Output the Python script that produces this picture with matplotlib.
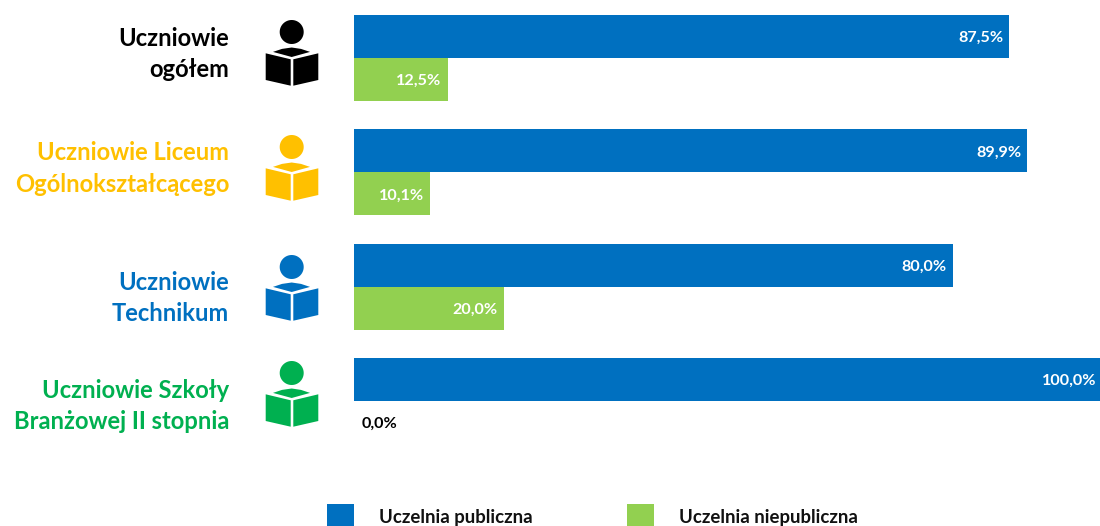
import math
import matplotlib
matplotlib.use("Agg")
import matplotlib.pyplot as plt
from matplotlib.patches import Polygon, Rectangle

W, H = 1100, 526
plt.rcParams['font.family'] = ['Lato', 'DejaVu Sans']

categories = ["Uczniowie\nogółem", "Uczniowie Liceum\nOgólnokształcącego",
              "Uczniowie\nTechnikum", "Uczniowie Szkoły\nBranżowej II stopnia"]
cat_colors = ["#000000", "#FFC000", "#0070C0", "#00B050"]
publiczna = [87.5, 89.9, 80.0, 100.0]
niepubliczna = [12.5, 10.1, 20.0, 0.0]
series_names = ["Uczelnia publiczna", "Uczelnia niepubliczna"]
BLUE, GREEN = "#0070C0", "#92D050"

fig = plt.figure(figsize=(W / 100, H / 100), dpi=100)
fig.patch.set_facecolor("white")
ax = fig.add_axes([354 / W, 0, 746 / W, 1])
row = 114.3
ax.set_ylim((H - 58) / row, -58 / row)
ax.set_xlim(0, 746 / 7.486)
ax.axis("off")

h = 43 / row
ys = list(range(4))
ax.barh([y - h / 2 for y in ys], publiczna, height=h, color=BLUE)
ax.barh([y + h / 2 for y in ys], niepubliczna, height=h, color=GREEN)


def fmt(v):
    return f"{v:.1f}%".replace(".", ",")


LBL = dict(va="center", fontweight="bold", fontsize=11.6, annotation_clip=False,
           textcoords="offset points")
for y, a, b in zip(ys, publiczna, niepubliczna):
    ax.annotate(fmt(a), (a, y - h / 2), xytext=(-4.3, -1.2), ha="right", color="white", **LBL)
    if b > 0:
        ax.annotate(fmt(b), (b, y + h / 2), xytext=(-4.3, -1.2), ha="right", color="white", **LBL)
    else:
        ax.annotate(fmt(b), (b, y + h / 2), xytext=(5.5, -1.2), ha="left", color="black", **LBL)


def px(x, y):
    return (x / W, 1 - y / H)


CIRCLE = [(math.cos(i * math.pi / 30), math.sin(i * math.pi / 30)) for i in range(60)]


def add_icon(dy, color):
    tr = fig.transFigure
    fig.add_artist(Polygon([px(291.7 + 12 * c, 32 + dy + 12 * s) for c, s in CIRCLE], closed=True,
                           transform=tr, facecolor=color, edgecolor="none"))
    for pts in (
        [(273, 51.9), (282, 48.9), (291.7, 47.5), (301, 48.9), (310, 51.9), (291.7, 57)],
        [(265.7, 53.3), (290.7, 59.3), (290.7, 85.7), (265.7, 80)],
        [(293.3, 59.3), (318.3, 53.3), (318.3, 80), (293.3, 85.7)],
    ):
        fig.add_artist(Polygon([px(x, y + dy) for x, y in pts], closed=True, transform=tr,
                               facecolor=color, edgecolor="none"))


icon_offsets = [0, 115, 235, 341]
label_y = [53, 168, 297, 405]
for cat, col, dy, ly in zip(categories, cat_colors, icon_offsets, label_y):
    add_icon(dy, col)
    l1, l2 = cat.split("\n")
    fig.text(*px(229, ly - 15), l1, ha="right", va="center", color=col, fontweight="bold", fontsize=17.1)
    fig.text(*px(229, ly + 16.5), l2, ha="right", va="center", color=col, fontweight="bold", fontsize=17.1)

for x0, col, name in zip((327, 627), (BLUE, GREEN), series_names):
    fig.add_artist(Rectangle(px(x0, 526), 27 / W, 22 / H, transform=fig.transFigure,
                             facecolor=col, edgecolor="none"))
    fig.text(*px(x0 + 52, 518), name, ha="left", va="center", color="#111111",
             fontweight="bold", fontsize=13.4)

fig.savefig("out.png", dpi=100)
